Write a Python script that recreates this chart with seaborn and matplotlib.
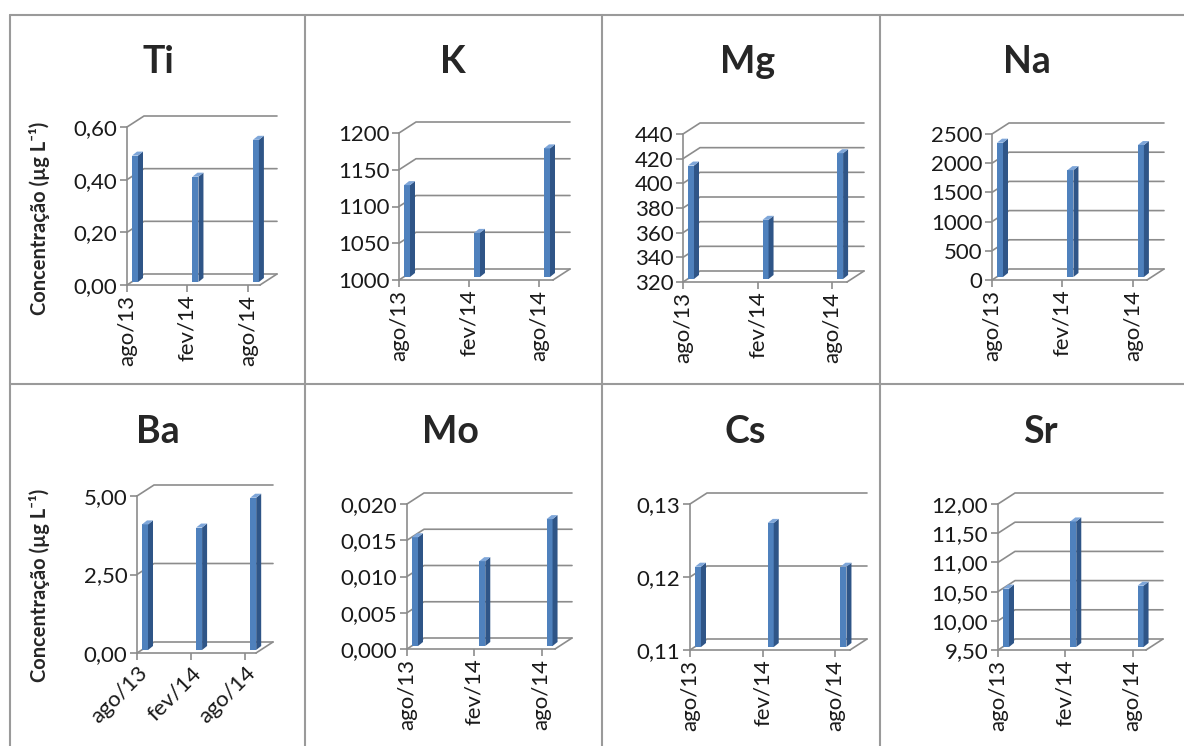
import numpy as np
import matplotlib
matplotlib.use('Agg')
import matplotlib.pyplot as plt
import seaborn as sns
from matplotlib.patches import Polygon
from matplotlib.lines import Line2D

sns.set_style("white")
plt.rcParams['font.family'] = ['Lato', 'DejaVu Sans']

# ====================== DATA ======================
dates = ['ago/13', 'fev/14', 'ago/14']
elements = ['Ti', 'K', 'Mg', 'Na', 'Ba', 'Mo', 'Cs', 'Sr']

ti = [0.48, 0.40, 0.54]
k = [1125, 1060, 1175]
mg = [412, 368, 422]
na = [2300, 1830, 2260]
ba = [4.00, 3.90, 4.85]
mo = [0.0150, 0.0117, 0.0175]
cs = [0.121, 0.127, 0.121]
sr = [10.50, 11.65, 10.55]
values = [ti, k, mg, na, ba, mo, cs, sr]

yticks = [
    [0.0, 0.2, 0.4, 0.6],
    [1000, 1050, 1100, 1150, 1200],
    [320, 340, 360, 380, 400, 420, 440],
    [0, 500, 1000, 1500, 2000, 2500],
    [0.0, 2.5, 5.0],
    [0.0, 0.005, 0.010, 0.015, 0.020],
    [0.11, 0.12, 0.13],
    [9.5, 10.0, 10.5, 11.0, 11.5, 12.0],
]
ydecimals = [2, 0, 0, 0, 2, 3, 2, 2]
ylabel = 'Concentração (µg L⁻¹)'

# ====================== LAYOUT (pixels) ======================
W, H = 1184, 746
# front plane: axis x, zero y, top y, right x
boxes = [(127, 285, 127, 260), (399, 280, 133, 553), (683, 282, 134, 847), (992, 280, 134, 1147),
         (137, 653, 496, 256), (407, 649, 504, 555), (690, 650, 504, 850), (998, 650, 504, 1146)]
title_pos = [(158, 62), (453, 62), (748, 62), (1027, 62),
             (158, 432), (450, 432), (745, 432), (1040, 432)]
XMAX = 2.2
DEPTH = (17, 11)        # back wall offset (px)
BAR_OFF = (8, 3)        # bar front face offset (px)
BAR_W = 6               # bar front width (px)
BAR_SIDE = (5, 4)       # bar side depth (px)
GRID = '#8c8c8c'
FRONT = '#4f81bd'
SIDE = '#2f5587'
TOP = '#7ea6d9'
TICK_FS = 16

fig = plt.figure(figsize=(W / 100, H / 100), dpi=100)

for i, el in enumerate(elements):
    x0, yb, yt, x1 = boxes[i]
    ax = fig.add_axes([x0 / W, 1 - yb / H, (x1 - x0) / W, (yb - yt) / H])
    ymin, ymax = yticks[i][0], yticks[i][-1]
    ux = (x1 - x0) / XMAX                 # px per x unit
    uy = (yb - yt) / (ymax - ymin)        # px per y unit
    ddx, ddy = DEPTH[0] / ux, DEPTH[1] / uy

    # back wall gridlines + left wall diagonals
    for v in yticks[i]:
        ax.plot([0, ddx, XMAX + ddx], [v, v + ddy, v + ddy], color=GRID, lw=1.2,
                clip_on=False, zorder=1)
    # floor right edge
    ax.plot([XMAX, XMAX + ddx], [ymin, ymin + ddy], color=GRID, lw=1.2, clip_on=False, zorder=1)

    sns.barplot(x=dates, y=values[i], ax=ax, color=FRONT, width=BAR_W / ux,
                saturation=1, zorder=3)
    bw = BAR_W / ux
    ox, oy = BAR_OFF[0] / ux, BAR_OFF[1] / uy
    sx, sy = BAR_SIDE[0] / ux, BAR_SIDE[1] / uy
    for j, p in enumerate(ax.patches):
        v = values[i][j]
        left = j + ox - bw / 2
        bottom = ymin + oy
        top = v + oy
        p.set_x(left)
        p.set_y(bottom)
        p.set_height(top - bottom)
        p.set_clip_on(False)
        p.set_edgecolor('none')
        ax.add_patch(Polygon([(left + bw, bottom), (left + bw + sx, bottom + sy),
                              (left + bw + sx, top + sy), (left + bw, top)],
                             closed=True, facecolor=SIDE, edgecolor='none',
                             clip_on=False, zorder=3))
        ax.add_patch(Polygon([(left, top), (left + bw, top), (left + bw + sx, top + sy),
                              (left + sx, top + sy)],
                             closed=True, facecolor=TOP, edgecolor='none',
                             clip_on=False, zorder=3))

    ax.set_xlim(0, XMAX)
    ax.set_ylim(ymin, ymax)
    ax.set_yticks(yticks[i])
    ax.set_yticklabels([f'{t:.{ydecimals[i]}f}'.replace('.', ',') for t in yticks[i]])
    ax.set_xticks(range(len(dates)))
    if el == 'Ba':
        ax.set_xticklabels(dates, rotation=45, ha='right', rotation_mode='anchor')
    else:
        ax.set_xticklabels(dates, rotation=90)
    ax.tick_params(axis='both', which='both', length=5, width=1.2, color=GRID,
                   labelsize=TICK_FS, labelcolor='#1a1a1a', pad=2,
                   left=True, bottom=True)
    ax.set_xlabel('')
    ax.set_ylabel('')
    for s in ['top', 'right']:
        ax.spines[s].set_visible(False)
    for s in ['left', 'bottom']:
        ax.spines[s].set_color(GRID)
        ax.spines[s].set_linewidth(1.2)
    ax.patch.set_alpha(0)

    tx, ty = title_pos[i]
    fig.text(tx / W, 1 - ty / H, el, ha='center', va='center', fontsize=27, fontweight='bold')

# y labels
fig.text(40 / W, 1 - 218 / H, ylabel, rotation=90, ha='center', va='center',
         fontsize=14.5, fontweight='bold')
fig.text(40 / W, 1 - 585 / H, ylabel, rotation=90, ha='center', va='center',
         fontsize=14.5, fontweight='bold')

# table borders
border = '#9a9a9a'
for yy in [15, 384]:
    fig.add_artist(Line2D([10 / W, 1], [1 - yy / H, 1 - yy / H], color=border, lw=1.5))
for xx in [10, 305, 602, 880]:
    fig.add_artist(Line2D([xx / W, xx / W], [1 - 15 / H, 0], color=border, lw=1.5))

plt.savefig('out.png', dpi=100)
